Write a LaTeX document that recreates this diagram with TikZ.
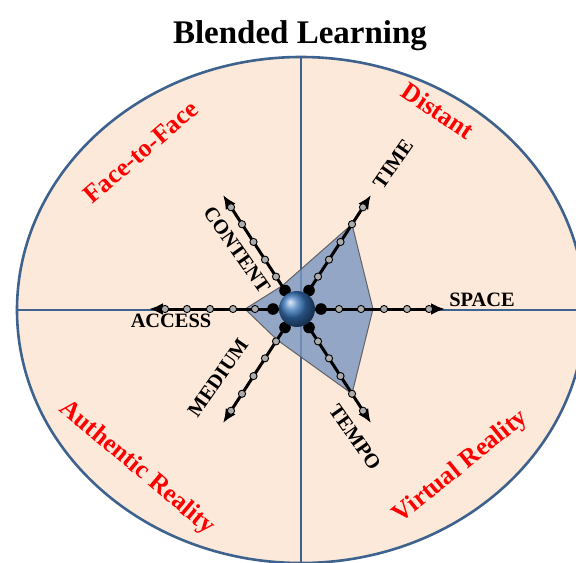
\documentclass[tikz,border=0pt]{standalone}
\usepackage{fontspec}
\setmainfont{Liberation Serif}
\usetikzlibrary{arrows.meta,calc}
\definecolor{peach}{RGB}{253,233,217}
\definecolor{rim}{RGB}{62,98,142}
\definecolor{web}{RGB}{122,150,192}
\definecolor{ballblue}{RGB}{55,115,185}
\tikzset{
  zone/.style={text=red,font=\bfseries\fontsize{12.9}{12.9}\selectfont},
  axlab/.style={font=\bfseries\fontsize{10.2}{10.2}\selectfont},
  axisline/.style={line width=1.5pt,-{Latex[length=7pt,width=6pt]}},
  tickdot/.style={fill=gray!65,draw=black,line width=0.45pt},
}
\begin{document}
\begin{tikzpicture}[x=0.5pt,y=-0.5pt,line join=round,line cap=round]
\useasboundingbox (0,0) rectangle (576,562);
\begin{scope}
\clip (0,0) rectangle (576,562);
\fill[peach] (301,310) ellipse [x radius=284,y radius=253];
\draw[rim,line width=1.3pt] (301,310) ellipse [x radius=284,y radius=253];
\coordinate (top) at (301,57);
\coordinate (bot) at (301,570);
\coordinate (lft) at (17,310);
\coordinate (rgt) at (590,310);
\draw[rim,line width=1.2pt] (top)--(bot) (lft)--(rgt);
\end{scope}
\node[font=\bfseries\fontsize{16.5}{16.5}\selectfont,anchor=base] (title) at (300,43) {Blended Learning};
\node[zone,rotate=41] (f2f) at (141,152) {Face-to-Face};
\node[zone,rotate=-34] (dist) at (438,111) {Distant};
\node[zone,rotate=-40] (auth) at (137,468) {Authentic Reality};
\node[zone,rotate=39] (virt) at (461,467) {Virtual Reality};
\begin{scope}[shift={(297,309)},x=0.5pt,y=0.445pt]
\coordinate (o) at (0,0);
\fill[web,opacity=.8,draw=gray!60!black,line width=0.5pt] (60:110)--(0:76)--(-60:110)--(240:40)--(180:52)--(120:30)--cycle;
\foreach \a/\n in {0/space,60/time,120/content,180/access,240/medium,300/tempo}{
  \coordinate (tip-\n) at (\a:148);
  \draw[axisline] (o)--(tip-\n);
  \foreach \r in {42,64,87,110,132}{\draw[tickdot] (\a:\r) circle (1.8pt);}
  \fill (\a:24) circle (2.9pt);
}
\node[circle,minimum size=18pt,inner sep=0pt,shading=ball,ball color=ballblue] (hub) at (o) {};
\end{scope}
\node[axlab] (l-space) at (482,300) {SPACE};
\node[axlab] (l-access) at (171,321) {ACCESS};
\node[axlab,rotate=55] (l-time) at (393,164) {TIME};
\node[axlab,rotate=-55] (l-content) at (237,250) {CONTENT};
\node[axlab,rotate=55] (l-medium) at (218,378) {MEDIUM};
\node[axlab,rotate=-55] (l-tempo) at (355,437) {TEMPO};
\end{tikzpicture}
\end{document}
